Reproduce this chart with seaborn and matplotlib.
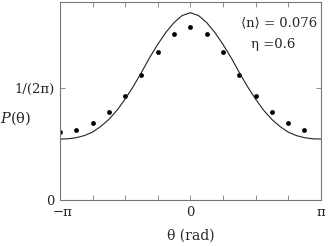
import numpy as np
import pandas as pd
import matplotlib
matplotlib.use('Agg')
import matplotlib.pyplot as plt
import matplotlib.transforms as mtransforms
import seaborn as sns

# angles (rad) on a pi/16 grid for the theory curve, pi/8 grid for measured points
curve_theta = np.arange(-16, 17) * np.pi / 16
curve_p = [0.0868, 0.0872, 0.0888, 0.0918, 0.0968, 0.1048, 0.1148, 0.1278,
           0.1438, 0.1618, 0.1818, 0.2028, 0.2218, 0.2388, 0.2528, 0.2628,
           0.2668,
           0.2628, 0.2528, 0.2388, 0.2218, 0.2028, 0.1818, 0.1618, 0.1438,
           0.1278, 0.1148, 0.1048, 0.0968, 0.0918, 0.0888, 0.0872, 0.0868]

point_theta = np.arange(-8, 8) * np.pi / 8
point_p = [0.0965, 0.1000, 0.1090, 0.1250, 0.1480, 0.1785, 0.2108, 0.2369,
           0.2460,
           0.2369, 0.2108, 0.1785, 0.1480, 0.1250, 0.1090, 0.1000]

xtick_pos = np.arange(-4, 5) * np.pi / 4
xtick_labels = ['\u2212\u03c0', '', '', '', '0', '', '', '', '\u03c0']
ytick_pos = [0, 1 / (2 * np.pi)]
ytick_labels = ['0', '1/(2\u03c0)']

curve_df = pd.DataFrame({'theta': curve_theta, 'p': curve_p})
point_df = pd.DataFrame({'theta': point_theta, 'p': point_p})

sns.set_theme(style='ticks')
plt.rcParams['font.family'] = ['DejaVu Serif', 'DejaVu Sans']
plt.rcParams['mathtext.fontset'] = 'dejavuserif'
plt.rcParams['font.size'] = 9.5

fig = plt.figure(figsize=(3.32, 2.46), dpi=100)
ax = fig.add_axes([60 / 332, 46 / 246, 260.7 / 332, 198.3 / 246])

sns.lineplot(data=curve_df, x='theta', y='p', ax=ax, color='#222222',
             linewidth=0.8)
sns.scatterplot(data=point_df, x='theta', y='p', ax=ax, color='black',
                s=12, linewidth=0)

ax.set_xlim(-np.pi, np.pi)
ax.set_ylim(0, 0.2825)
ax.set_xticks(xtick_pos)
ax.set_xticklabels(xtick_labels)
ax.set_yticks(ytick_pos)
ax.set_yticklabels(ytick_labels)
ax.tick_params(direction='in', length=3.5, width=0.6, color='#777777',
               top=True, right=True, labelsize=9.5)
ax.tick_params(axis='x', pad=4.5)
ax.tick_params(axis='y', pad=4)
for s in ax.spines.values():
    s.set_color('#777777')
    s.set_linewidth(0.8)

# nudge the -pi label right so it clears the y "0" label
first = ax.get_xticklabels()[0]
first.set_transform(first.get_transform() +
                    mtransforms.ScaledTranslation(3 / 100, 0, fig.dpi_scale_trans))

ax.set_xlabel('\u03b8 (rad)', fontsize=10)
ax.xaxis.set_label_coords(0.5, -0.18)
ax.xaxis.label.set_va('center')
ax.set_ylabel('')
fig.text(0.0, 1 - 118 / 246, '$P$(\u03b8)', ha='left', va='center',
         fontsize=10.5)

ax.text(0.839, 0.891, '\u27e8n\u27e9 = 0.076', transform=ax.transAxes,
        ha='center', va='center', fontsize=9.5)
ax.text(0.816, 0.782, '\u03b7 =0.6', transform=ax.transAxes,
        ha='center', va='center', fontsize=9.5)

fig.savefig('out.png', dpi=100)
